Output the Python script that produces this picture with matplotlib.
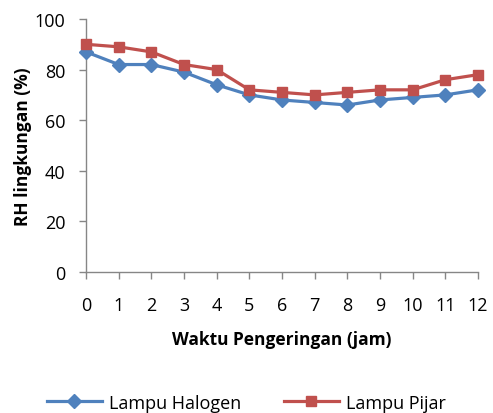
import matplotlib.pyplot as plt

jam = [0, 1, 2, 3, 4, 5, 6, 7, 8, 9, 10, 11, 12]
rh_halogen = [87, 82, 82, 79, 74, 70, 68, 67, 66, 68, 69, 70, 72]
rh_pijar = [90, 89, 87, 82, 80, 72, 71, 70, 71, 72, 72, 76, 78]


def main():
    plt.rcParams["font.family"] = ["Open Sans", "DejaVu Sans"]
    fig = plt.figure(figsize=(4.93, 4.14), dpi=100)
    ax = fig.add_axes([0.1744, 0.3406, 0.7952, 0.6111])

    ax.plot(jam, rh_halogen, color="#4F81BD", lw=2.3, marker="D",
            markersize=7, label="Lampu Halogen", clip_on=False, zorder=3)
    ax.plot(jam, rh_pijar, color="#C0504D", lw=2.3, marker="s",
            markersize=7.5, label="Lampu Pijar", clip_on=False, zorder=3)

    ax.set_xlim(0, 12)
    ax.set_ylim(0, 100)
    ax.set_xticks(jam)
    ax.set_yticks(range(0, 101, 20))
    for s in ["top", "right"]:
        ax.spines[s].set_visible(False)
    for s in ["left", "bottom"]:
        ax.spines[s].set_color("#868686")
        ax.spines[s].set_linewidth(1)
    ax.tick_params(axis="both", colors="#868686", labelcolor="black",
                   labelsize=13, length=5, width=1)
    ax.tick_params(axis="x", pad=12)
    ax.tick_params(axis="y", pad=10)

    ax.set_xlabel("Waktu Pengeringan (jam)", fontsize=12.5, fontweight="bold",
                  labelpad=12)
    ax.set_ylabel("RH lingkungan (%)", fontsize=12.5, fontweight="bold",
                  labelpad=2)

    fig.legend(loc="center", bbox_to_anchor=(0.5, 0.025), ncol=2,
               frameon=False, fontsize=13, handlelength=3.0,
               columnspacing=2.4, handletextpad=0.4)

    fig.savefig("out.png", dpi=100)


if __name__ == "__main__":
    main()
